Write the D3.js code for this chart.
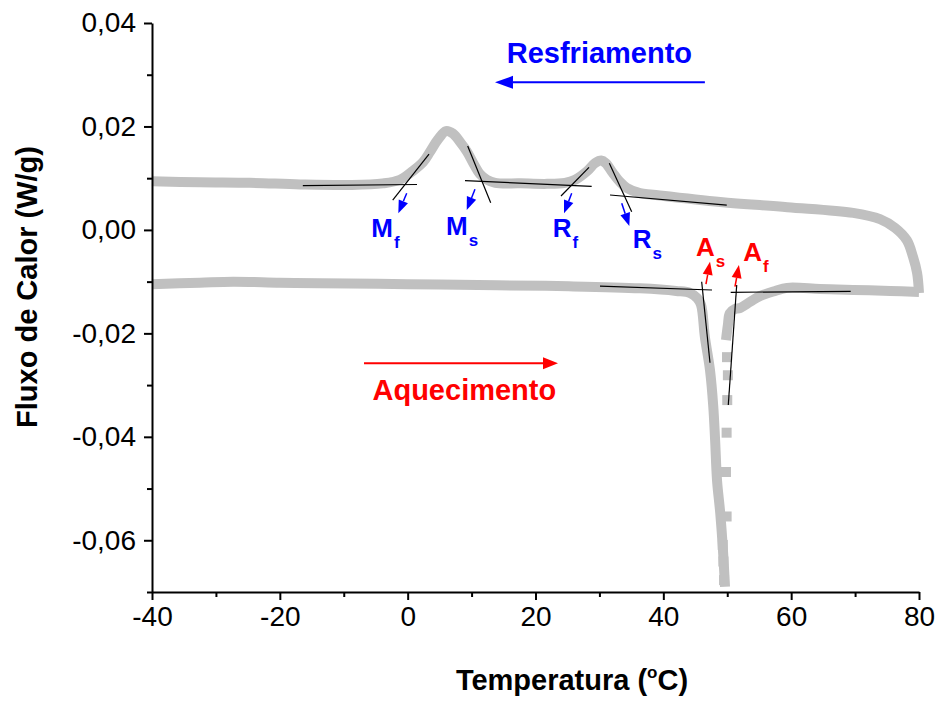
<!DOCTYPE html>
<html>
<head>
<meta charset="utf-8">
<script src="https://cdn.jsdelivr.net/npm/d3@7"></script>
<style>
body { margin: 0; background: #fff; }
svg { display: block; font-family: "Liberation Sans", Arial, sans-serif; }
</style>
</head>
<body>
<div class="chart"></div>
<script>
// DSC - fluxo de calor x temperatura (resfriamento e aquecimento)
var coolT = [-40, -32.5, -24.7, -16.8, -9.0, -3.9, -1.2, 0.8, 2.4, 3.5, 4.75, 6.0, 7.1, 8.2, 9.3, 10.4, 11.3, 12.4, 13.7, 17.6, 21.8, 24.6, 26.2, 28.1, 29.3, 30.3, 31.0, 32.1, 33.2, 34.3, 36.35, 38.4, 48.9, 59.4, 69.7, 73.9, 76.25, 78.1, 79.06, 79.7, 80];
var coolQ = [0.0094, 0.0092, 0.0091, 0.0088, 0.0087, 0.0090, 0.0097, 0.0114, 0.0131, 0.0151, 0.0175, 0.0191, 0.0186, 0.0170, 0.0151, 0.0126, 0.0108, 0.0097, 0.0091, 0.0090, 0.0089, 0.0091, 0.0097, 0.0114, 0.0129, 0.0134, 0.0129, 0.0110, 0.0093, 0.0081, 0.0071, 0.0068, 0.0054, 0.0044, 0.0033, 0.0021, 0.0004, -0.0020, -0.0052, -0.0083, -0.0122];

var heatT = [-40, -32.5, -27.3, -20.0, -13.7, 0.05, 14.0, 25.2, 36.35, 42.0, 44.2, 45.3, 45.9, 46.5, 47.3, 47.8, 48.1, 48.4, 48.9, 49.3, 49.65];
var heatQ = [-0.0105, -0.0102, -0.0100, -0.0102, -0.0103, -0.0105, -0.0107, -0.0109, -0.0113, -0.0118, -0.0122, -0.0132, -0.0145, -0.0207, -0.0271, -0.0339, -0.0406, -0.0484, -0.0547, -0.0613, -0.0690];
// pontos esparsos no retorno do pico
var heatGapT = [49.5, 49.4, 49.3, 49.9, 49.8, 49.9, 50.0, 50.1, 49.96];
var heatGapQ = [-0.0677, -0.0641, -0.0609, -0.0554, -0.0468, -0.0392, -0.0329, -0.0281, -0.0246];
var heat2T = [49.8, 50.1, 50.4, 51.2, 52.0, 53.6, 55.1, 57.5, 59.35, 64.5, 69.7, 75.5, 80];
var heat2Q = [-0.0213, -0.0184, -0.0161, -0.0153, -0.0151, -0.0139, -0.0128, -0.0118, -0.0112, -0.0114, -0.0116, -0.0118, -0.0120];

var xTicks = [-40, -20, 0, 20, 40, 60, 80];
var xMinor = [-30, -10, 10, 30, 50, 70];
var yTicks = [-0.06, -0.04, -0.02, 0, 0.02, 0.04];
var yMinor = [-0.07, -0.05, -0.03, -0.01, 0.01, 0.03];

// retas tangentes [T1, Q1, T2, Q2]
var tangents = [
  [-16.4, 0.00858, 1.46, 0.00878],
  [-2.34, 0.00578, 3.34, 0.01467],
  [9.39, 0.01622, 12.99, 0.00526],
  [8.97, 0.00951, 28.79, 0.00843],
  [23.99, 0.00655, 28.37, 0.01210],
  [31.55, 0.01288, 35.05, 0.00352],
  [31.66, 0.00675, 49.92, 0.00481],
  [30.09, -0.01085, 47.61, -0.01162],
  [46.0, -0.01001, 47.3, -0.02567],
  [51.48, -0.01065, 50.16, -0.03385],
  [50.54, -0.01206, 69.31, -0.01187]
];

// temperaturas de transformacao
var trLetter = ["M", "M", "R", "R", "A", "A"];
var trSub = ["f", "s", "f", "s", "s", "f"];
var trColor = ["blue", "blue", "blue", "blue", "red", "red"];
var trT = [-5.7, 6.0, 22.7, 35.2, 45.1, 52.5];
var trQ = [-0.00131, -0.00099, -0.00131, -0.00356, -0.00505, -0.00595];
var trArrow = [
  [-0.15, 0.00708, -1.46, 0.00321],
  [10.53, 0.00785, 9.24, 0.00385],
  [25.66, 0.00708, 24.46, 0.00321],
  [33.49, 0.00514, 34.68, 0.00075],
  [46.67, -0.01046, 47.3, -0.00615],
  [51.21, -0.01098, 51.83, -0.00679]
];

var W = 941, H = 702;
var svg = d3.select(".chart").append("svg")
  .attr("width", W)
  .attr("height", H);

var x = d3.scaleLinear().domain([-40, 80]).range([152, 919]);
var y = d3.scaleLinear().domain([-0.07, 0.04]).range([592, 23]);

var fmtY = function(d) {
  var s = d3.format(".2f")(Math.abs(d) < 1e-9 ? 0 : d);
  return s.replace(".", ",").replace("\u2212", "-");
};
var fmtX = function(d) { return String(d); };

// curves
var line = d3.line()
  .x(function(d) { return x(d[0]); })
  .y(function(d) { return y(d[1]); })
  .curve(d3.curveCatmullRom.alpha(0.5));

var gray = "#c0c0c0";
var cool = coolT.map(function(t, i) { return [t, coolQ[i]]; });
var heat = heatT.map(function(t, i) { return [t, heatQ[i]]; });
var heat2 = heat2T.map(function(t, i) { return [t, heat2Q[i]]; });

[cool, heat, heat2].forEach(function(c) {
  svg.append("path")
    .attr("d", line(c))
    .attr("fill", "none")
    .attr("stroke", gray)
    .attr("stroke-width", 10)
    .attr("stroke-linejoin", "round");
});

svg.selectAll(".gap")
  .data(heatGapT)
  .enter().append("rect")
  .attr("class", "gap")
  .attr("x", function(d) { return x(d) - 5; })
  .attr("y", function(d, i) { return y(heatGapQ[i]) - 5; })
  .attr("width", 10)
  .attr("height", 10)
  .attr("fill", gray);

// tangents
svg.selectAll(".tan")
  .data(tangents)
  .enter().append("line")
  .attr("class", "tan")
  .attr("x1", function(d) { return x(d[0]); })
  .attr("y1", function(d) { return y(d[1]); })
  .attr("x2", function(d) { return x(d[2]); })
  .attr("y2", function(d) { return y(d[3]); })
  .attr("stroke", "#000")
  .attr("stroke-width", 1.2);

// arrow helper
function arrow(x1, y1, x2, y2, col, lw, hl, hw) {
  var dx = x2 - x1, dy = y2 - y1, len = Math.sqrt(dx * dx + dy * dy);
  var ux = dx / len, uy = dy / len;
  var bx = x2 - ux * hl, by = y2 - uy * hl;
  svg.append("line")
    .attr("x1", x1).attr("y1", y1).attr("x2", bx).attr("y2", by)
    .attr("stroke", col).attr("stroke-width", lw);
  svg.append("path")
    .attr("d", "M" + x2 + "," + y2 + "L" + (bx - uy * hw) + "," + (by + ux * hw) + "L" + (bx + uy * hw) + "," + (by - ux * hw) + "Z")
    .attr("fill", col);
}

for (var i = 0; i < trLetter.length; i++) {
  var a = trArrow[i];
  arrow(x(a[0]), y(a[1]), x(a[2]), y(a[3]), trColor[i], 1.5, 13, 5);
  var t = svg.append("text")
    .attr("x", x(trT[i]))
    .attr("y", y(trQ[i]))
    .attr("fill", trColor[i])
    .attr("font-weight", "bold")
    .attr("font-size", 26)
    .text(trLetter[i]);
  t.append("tspan")
    .attr("dx", 1)
    .attr("dy", 11)
    .attr("font-size", 17)
    .text(trSub[i]);
}

// direction arrows
arrow(x(46.5), y(0.02853), x(13.66), y(0.02853), "blue", 2, 18, 6.5);
svg.append("text")
  .attr("x", x(15.5)).attr("y", y(0.0323))
  .attr("fill", "blue").attr("font-weight", "bold").attr("font-size", 29)
  .text("Resfriamento");

arrow(x(-6.83), y(-0.02579), x(23.52), y(-0.02579), "red", 2, 15, 6);
svg.append("text")
  .attr("x", x(-5.5)).attr("y", y(-0.03288))
  .attr("fill", "red").attr("font-weight", "bold").attr("font-size", 29)
  .text("Aquecimento");

// axes
var gx = svg.append("g").attr("transform", "translate(0,592)")
  .call(d3.axisBottom(x).tickValues(xTicks).tickFormat(fmtX).tickSize(8).tickSizeOuter(0).tickPadding(6));
svg.append("g").attr("transform", "translate(0,592)")
  .call(d3.axisBottom(x).tickValues(xMinor).tickFormat("").tickSize(5).tickSizeOuter(0))
  .select(".domain").remove();

var gy = svg.append("g").attr("transform", "translate(152,0)")
  .call(d3.axisLeft(y).tickValues(yTicks).tickFormat(fmtY).tickSize(8).tickSizeOuter(0).tickPadding(8));
svg.append("g").attr("transform", "translate(152,0)")
  .call(d3.axisLeft(y).tickValues(yMinor).tickFormat("").tickSize(5).tickSizeOuter(0))
  .select(".domain").remove();

svg.selectAll(".domain").attr("stroke-width", 2).attr("stroke", "#000");
svg.selectAll(".tick line").attr("stroke-width", 2).attr("stroke", "#000");
gx.selectAll("text").attr("font-size", 28).attr("font-family", "Liberation Sans, Arial, sans-serif").attr("fill", "#000");
gy.selectAll("text").attr("font-size", 28).attr("font-family", "Liberation Sans, Arial, sans-serif").attr("fill", "#000");

// titles
svg.append("text")
  .attr("transform", "translate(37,287) rotate(-90)")
  .attr("text-anchor", "middle")
  .attr("font-weight", "bold")
  .attr("font-size", 29)
  .text("Fluxo de Calor (W/g)");

var xt = svg.append("text")
  .attr("x", 572).attr("y", 690)
  .attr("text-anchor", "middle")
  .attr("font-weight", "bold")
  .attr("font-size", 29);
xt.append("tspan").text("Temperatura (");
xt.append("tspan").attr("font-size", 17).attr("dy", -12).text("o");
xt.append("tspan").attr("dy", 12).text("C)");
</script>
</body>
</html>
